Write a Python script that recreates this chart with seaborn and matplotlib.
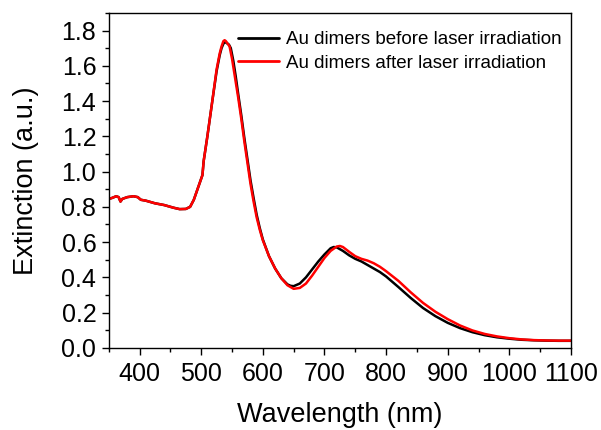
import numpy as np
import pandas as pd
import matplotlib
matplotlib.use("Agg")
import matplotlib.pyplot as plt
import seaborn as sns
from matplotlib.ticker import MultipleLocator, FormatStrFormatter

# Red curve: after laser irradiation
wl_after = [350, 355, 362, 366, 369, 372, 380, 390, 397, 402, 410, 425, 440, 455, 465, 475,
            482, 488, 493, 498, 502, 504, 510, 518, 525, 530, 533, 536, 538, 540, 543, 546,
            550, 555, 560, 565, 570, 575, 580, 585, 590, 595, 600, 610, 620, 630, 640, 650,
            660, 670, 680, 690, 700, 710, 720, 725, 730, 740, 750, 760, 770, 780, 790, 800,
            820, 840, 860, 880, 900, 920, 940, 960, 980, 1000, 1020, 1040, 1060, 1080, 1100]
ext_after = [0.845, 0.85, 0.86, 0.855, 0.83, 0.845, 0.855, 0.86, 0.855, 0.84, 0.835, 0.82,
             0.81, 0.795, 0.787, 0.788, 0.80, 0.84, 0.89, 0.94, 0.98, 1.06, 1.20, 1.40, 1.58,
             1.67, 1.71, 1.74, 1.745, 1.74, 1.725, 1.71,
             1.64, 1.53, 1.42, 1.30, 1.17, 1.05, 0.93, 0.83, 0.74, 0.67, 0.61, 0.52, 0.45,
             0.395, 0.355, 0.335, 0.34, 0.365, 0.41, 0.46, 0.51, 0.55, 0.575, 0.578, 0.572,
             0.545, 0.52, 0.505, 0.495, 0.48, 0.46, 0.435, 0.38, 0.315, 0.255, 0.205, 0.163,
             0.127, 0.099, 0.079, 0.065, 0.055, 0.048, 0.044, 0.042, 0.041, 0.041]

# Black curve: before laser irradiation
wl_before = [350, 355, 362, 366, 369, 372, 380, 390, 397, 402, 410, 425, 440, 455, 465, 475,
             482, 488, 493, 498, 502, 504, 510, 518, 525, 530, 533, 536, 538, 541, 545, 548,
             552, 556, 560, 565, 570, 575, 580, 585, 590, 595, 600, 610, 620, 630, 640, 645,
             650, 660, 670, 680, 690, 700, 710, 715, 720, 730, 740, 750, 760, 770, 780, 790,
             800, 820, 840, 860, 880, 900, 920, 940, 960, 980, 1000, 1020, 1040, 1060, 1080,
             1100]
ext_before = [0.845, 0.85, 0.86, 0.855, 0.83, 0.845, 0.855, 0.86, 0.855, 0.84, 0.835, 0.82,
              0.81, 0.795, 0.787, 0.788, 0.80, 0.84, 0.89, 0.94, 0.98, 1.06, 1.20, 1.40, 1.57,
              1.66, 1.70, 1.725, 1.735, 1.73, 1.72, 1.70,
              1.63, 1.54, 1.44, 1.32, 1.19, 1.07, 0.95, 0.85, 0.755, 0.68, 0.615, 0.52, 0.45,
              0.395, 0.36, 0.352, 0.35, 0.365, 0.40, 0.445, 0.49, 0.53, 0.565, 0.572, 0.57,
              0.55, 0.525, 0.505, 0.49, 0.47, 0.45, 0.43, 0.405, 0.345, 0.283, 0.226, 0.18,
              0.142, 0.112, 0.089, 0.072, 0.06, 0.052, 0.046, 0.043, 0.041, 0.04, 0.04]

labels = ["Au dimers before laser irradiation", "Au dimers after laser irradiation"]
colors = ["#000000", "#ff0000"]

df = pd.concat([
    pd.DataFrame({"Wavelength": wl_before, "Extinction": ext_before, "Sample": labels[0]}),
    pd.DataFrame({"Wavelength": wl_after, "Extinction": ext_after, "Sample": labels[1]}),
], ignore_index=True)

sns.set_theme(style="ticks")
plt.rcParams["font.family"] = ["Liberation Sans", "DejaVu Sans"]
plt.rcParams["text.color"] = "black"
plt.rcParams["axes.labelcolor"] = "black"
plt.rcParams["xtick.color"] = "black"
plt.rcParams["ytick.color"] = "black"

fig = plt.figure(figsize=(6.01, 4.30), dpi=100)
ax = fig.add_axes([0.181, 0.191, 0.769, 0.779])

sns.lineplot(data=df, x="Wavelength", y="Extinction", hue="Sample", hue_order=labels,
             palette=colors, linewidth=1.8, sort=False, estimator=None, ax=ax)

ax.set_xlim(350, 1100)
ax.set_ylim(0, 1.9)
ax.xaxis.set_major_locator(MultipleLocator(100))
ax.xaxis.set_minor_locator(MultipleLocator(50))
ax.yaxis.set_major_locator(MultipleLocator(0.2))
ax.yaxis.set_minor_locator(MultipleLocator(0.1))
ax.yaxis.set_major_formatter(FormatStrFormatter("%.1f"))

for s in ax.spines.values():
    s.set_visible(True)
    s.set_linewidth(1.0)
    s.set_color("black")
ax.tick_params(which="major", direction="out", length=5, width=1, labelsize=18,
               colors="black", labelcolor="black", top=False, right=False)
ax.tick_params(axis="x", which="major", pad=5)
ax.tick_params(axis="y", which="major", pad=4)
ax.tick_params(which="minor", direction="out", length=3, width=1, top=False, right=False,
               colors="black")

ax.set_xlabel("Wavelength (nm)", fontsize=19.5, labelpad=12, color="black")
ax.set_ylabel("Extinction (a.u.)", fontsize=19.5, labelpad=16, color="black")

leg = ax.legend(loc="upper right", frameon=False, fontsize=13.5, handlelength=2.2,
                handletextpad=0.35, labelspacing=0.35, borderaxespad=0.3,
                bbox_to_anchor=(1.008, 0.985))
for line in leg.get_lines():
    line.set_linewidth(2.0)
for t in leg.get_texts():
    t.set_color("black")

fig.savefig("out.png", dpi=100)
